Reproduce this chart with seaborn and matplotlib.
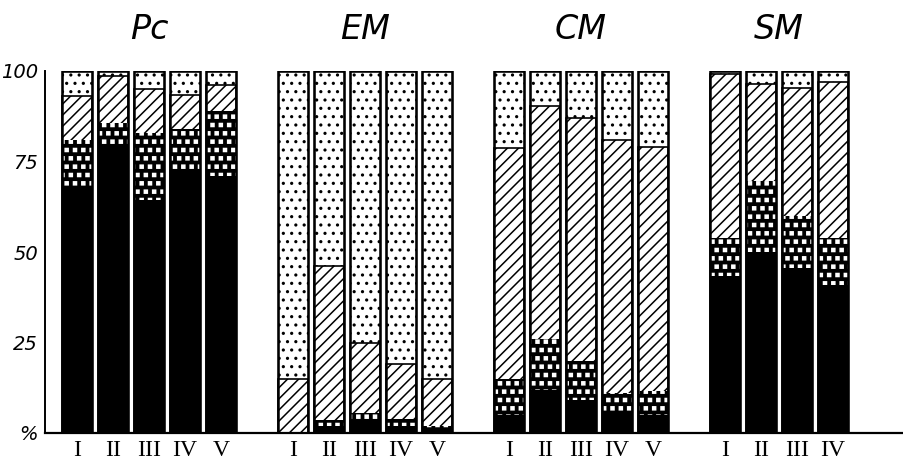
import matplotlib
matplotlib.use("Agg")
import matplotlib.pyplot as plt
import matplotlib.hatch as mhatch
from matplotlib.path import Path
import numpy as np
import seaborn as sns
import pandas as pd

# ---- data (percent of each bar) ----
groups = ["Pc", "EM", "CM", "SM"]
numerals = [["I", "II", "III", "IV", "V"],
            ["I", "II", "III", "IV", "V"],
            ["I", "II", "III", "IV", "V"],
            ["I", "II", "III", "IV"]]

# bottom (solid black) segment
black = [68, 79, 64.5, 72, 71,
         0, 1.8, 3.6, 2, 1,
         5, 12, 9, 5.5, 5,
         43.5, 50, 45.5, 41]
# checkered segment
checker = [13, 6.5, 18.5, 12, 18,
           0, 1.8, 1.8, 1.8, 0.8,
           10, 14, 11, 5.5, 6.5,
           10.5, 19.5, 14.5, 13]
# diagonally hatched segment
hatched = [12, 13, 12, 9.5, 7,
           15, 42.4, 19.6, 15.2, 13,
           63.6, 64.3, 67, 70, 67.5,
           45.2, 27, 35.4, 43]
# dotted (top) segment
dotted = [7, 1.5, 5, 6.5, 4,
          85, 54, 75, 81, 85.2,
          21.4, 9.7, 13, 19, 21,
          0.8, 3.5, 4.6, 3]

yticks = [0, 25, 50, 75, 100]
ytick_labels = ["%", "25", "50", "75", "100"]


# filled-square hatch used for the checkered segment (replaces the star '*')
class _FilledSquares(mhatch.Shapes):
    size = 0.18
    filled = True

    def __init__(self, hatch, density):
        self.num_rows = hatch.count("*") * density
        self.shape_vertices = np.array(
            [[-1, -1], [1, -1], [1, 1], [-1, 1], [-1, -1]], dtype=float)
        self.shape_codes = np.array(
            [Path.MOVETO, Path.LINETO, Path.LINETO, Path.LINETO,
             Path.CLOSEPOLY], dtype=Path.code_type)
        super().__init__(hatch, density)


mhatch._hatch_types = [t for t in mhatch._hatch_types
                       if t is not mhatch.Stars] + [_FilledSquares]

# ---- table ----
rows = []
k = 0
for gi, g in enumerate(groups):
    for bi, num in enumerate(numerals[gi]):
        rows.append(dict(group=g, numeral=num, pos=gi * 6 + bi,
                         black=black[k], checker=checker[k],
                         hatched=hatched[k], dotted=dotted[k]))
        k += 1
df = pd.DataFrame(rows)
df["c_black"] = df["black"]
df["c_checker"] = df["black"] + df["checker"]
df["c_hatched"] = df["c_checker"] + df["hatched"]
df["c_total"] = df["c_hatched"] + df["dotted"]

sns.set_style("white")
plt.rcParams["font.family"] = ["DejaVu Sans"]
plt.rcParams["hatch.linewidth"] = 1.1
for key in ["text.color", "axes.labelcolor", "xtick.color", "ytick.color",
            "axes.edgecolor"]:
    plt.rcParams[key] = "black"

fig = plt.figure(figsize=(9.04, 4.66), dpi=100)
ax = fig.add_axes([45 / 904, 33 / 466, 1 - 45 / 904, 362 / 466])

W = 0.83
common = dict(x="pos", native_scale=True, orient="x", errorbar=None,
              width=W, saturation=1, ax=ax)

# dotted top layer (full height)
sns.barplot(data=df, y="c_total", color="white", edgecolor="black",
            linewidth=1.0, hatch="..", **common)
# diagonal hatch layer
sns.barplot(data=df, y="c_hatched", color="white", edgecolor="black",
            linewidth=1.2, hatch="///", **common)
# checker layer: black with white squares
sns.barplot(data=df, y="c_checker", color="black", edgecolor="white",
            linewidth=0, hatch="**", **common)
# solid black layer
sns.barplot(data=df, y="c_black", color="black", edgecolor="black",
            linewidth=0, **common)
# outlines
sns.barplot(data=df, y="c_total", color="black", fill=False,
            linewidth=1.8, **common)

ax.set_xlim(-0.89, 22.97)
ax.set_ylim(0, 100)
ax.set_xlabel("")
ax.set_ylabel("")

ax.set_xticks(df["pos"].tolist())
ax.set_xticklabels(df["numeral"].tolist(), family="Liberation Serif",
                   fontsize=17)
ax.tick_params(axis="x", length=0, pad=5)

ax.set_yticks(yticks)
ax.set_yticklabels(ytick_labels, fontsize=14, style="italic")
ax.tick_params(axis="y", direction="in", length=7, width=1.4, pad=5)

for s in ["top", "right"]:
    ax.spines[s].set_visible(False)
ax.spines["left"].set_linewidth(1.4)
ax.spines["bottom"].set_linewidth(1.6)
ax.spines["left"].set_bounds(0, 100)

# group titles
for gi, g in enumerate(groups):
    n = len(numerals[gi])
    center = gi * 6 + (n - 1) / 2
    ax.text(center, 111.5, g, ha="center", va="center", fontsize=24,
            style="italic", fontweight="light", clip_on=False)

fig.savefig("out.png", dpi=100)
